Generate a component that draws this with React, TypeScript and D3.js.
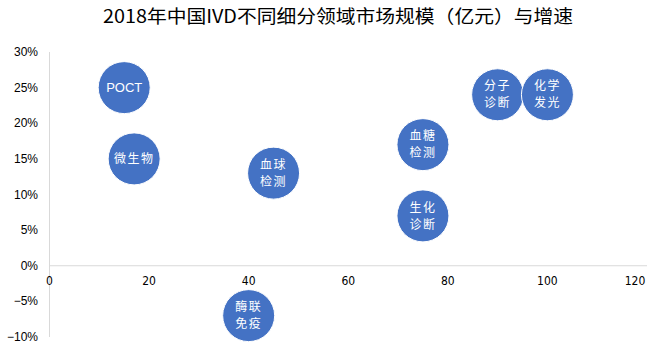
import React from "react";
import * as d3 from "d3";

const names = ["POCT", "微生物", "血球检测", "分子诊断", "化学发光", "血糖检测", "生化诊断", "酶联免疫"];
const labelLines = [["POCT"], ["微生物"], ["血球", "检测"], ["分子", "诊断"], ["化学", "发光"], ["血糖", "检测"], ["生化", "诊断"], ["酶联", "免疫"]];
const marketSize = [15, 17, 45, 90, 100, 75, 75, 40];
const growth = [0.25, 0.15, 0.13, 0.24, 0.24, 0.17, 0.07, -0.07];
const xTicks = [0, 20, 40, 60, 80, 100, 120];
const yTicks = [-0.1, -0.05, 0, 0.05, 0.1, 0.15, 0.2, 0.25, 0.3];
const title = "2018年中国IVD不同细分领域市场规模（亿元）与增速";

export default function App() {
  const W = 670, H = 359;
  const x = d3.scaleLinear().domain([0, 120]).range([49.5, 647]);
  const y = d3.scaleLinear().domain([-0.1, 0.3]).range([337, 52]);
  const r = 26;
  const cjk = "'Noto Sans CJK SC', 'Noto Sans', sans-serif";
  const fmt = (v: number) => `${Math.round(v * 100)}%`.replace("-", "−");
  return (
    <svg width={W} height={H} style={{ position: "absolute", left: 0, top: 0, background: "#fff" }}>
      <text x={338} y={23} textAnchor="middle" fontSize={18} fontFamily={cjk} fill="#000" textLength={470} lengthAdjust="spacingAndGlyphs">{title}</text>
      <line x1={x(0)} x2={x(0)} y1={y(0.3)} y2={y(-0.1)} stroke="#d9d9d9" strokeWidth={1} />
      <line x1={x(0)} x2={x(120)} y1={y(0)} y2={y(0)} stroke="#d9d9d9" strokeWidth={1} />
      {yTicks.map((t) => (
        <text key={t} x={38} y={y(t) + 4} textAnchor="end" fontSize={12} fontFamily="'Liberation Sans', Arial, sans-serif" fill="#000">{fmt(t)}</text>
      ))}
      {xTicks.map((t) => (
        <text key={t} x={t === 120 ? x(t) - 12 : x(t)} y={y(0) + 19} textAnchor="middle" fontSize={12} fontFamily="'DejaVu Sans Condensed', 'DejaVu Sans', sans-serif" fill="#000">{t}</text>
      ))}
      {names.map((n, i) => {
        const cx = x(marketSize[i]), cy = y(growth[i]);
        const lines = labelLines[i];
        const lh = 17;
        const isPoct = lines[0] === "POCT";
        return (
          <g key={n}>
            <circle cx={cx} cy={cy} r={r} fill="#4472C4" stroke="#ffffff" strokeWidth={1} />
            {lines.map((l, j) => (
              <text key={j} x={cx} y={cy + (j - (lines.length - 1) / 2) * lh + 4.2} textAnchor="middle" fontSize={isPoct ? 13 : 12} fontFamily={isPoct ? "'Liberation Sans Narrow', 'Liberation Sans', sans-serif" : cjk} fontWeight="normal" fill="#fff" letterSpacing={isPoct ? 0 : 1.5}>{l}</text>
            ))}
          </g>
        );
      })}
    </svg>
  );
}
